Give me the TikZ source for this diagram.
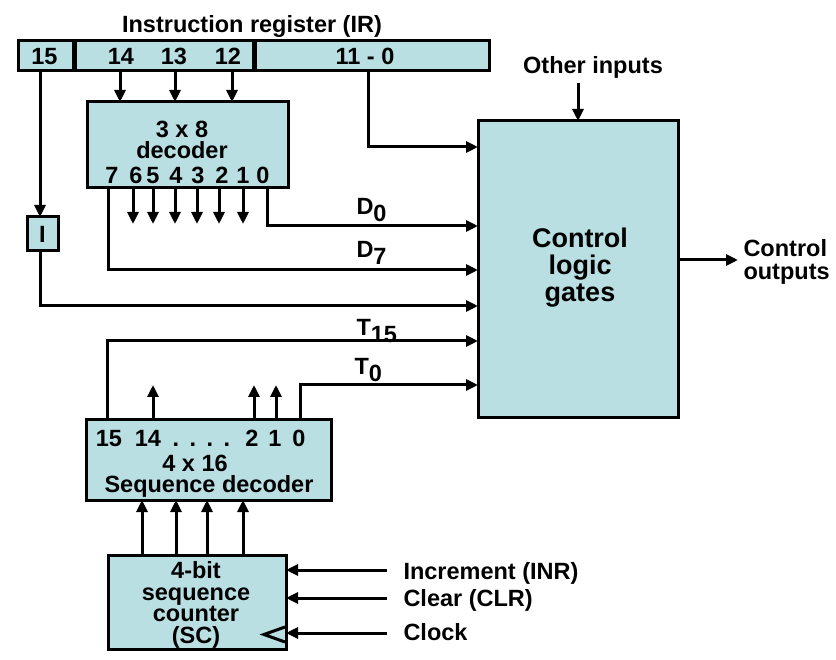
\documentclass[tikz,border=0pt]{standalone}
\usepackage{fontspec}
\setmainfont{Liberation Sans}
\usetikzlibrary{arrows.meta}
\definecolor{boxfill}{RGB}{185,223,227}
\newcommand{\sub}[1]{\raisebox{-6.5pt}{#1}}
\begin{document}
\begin{tikzpicture}[x=1pt,y=-1pt,
  line width=3pt,
  blk/.style={draw,fill=boxfill,inner sep=0pt,outer sep=0pt,rectangle},
  txt/.style={inner sep=0pt,anchor=base,font=\fontsize{23.5}{23.5}\selectfont\bfseries},
  big/.style={inner sep=0pt,anchor=base,font=\fontsize{27}{27}\selectfont\bfseries},
  arr/.style={-{Triangle[length=12pt,width=11pt]}},
  line join=miter]
\useasboundingbox (0,0) rectangle (836,660);
% Instruction register
\node[txt] (irt) at (252,33) {Instruction register (IR)};
\node[blk,minimum width=55pt,minimum height=30pt] (ira) at (45.5,56) {};
\node[blk,minimum width=178pt,minimum height=30pt] (irb) at (164,56) {};
\node[blk,minimum width=234pt,minimum height=30pt] (irc) at (372,56) {};
\node[txt] (n15) at (44.5,65) {15};
\node[txt] (n14) at (121,65) {14};
\node[txt] (n13) at (174,65) {13};
\node[txt] (n12) at (228,65) {12};
\node[txt] (n110) at (365,65) {11 - 0};
\coordinate (a14) at (120,71);
\coordinate (a13) at (175,71);
\coordinate (a12) at (232,71);
% 3x8 decoder
\node[blk,minimum width=201pt,minimum height=86pt] (dec) at (187.5,145) {};
\node[txt] (dect1) at (182,137.5) {3 x 8};
\node[txt] (dect2) at (182,159) {decoder};
\foreach \d/\x in {7/112,6/136,5/153,4/176,3/198,2/222,1/243,0/263}{
  \node[txt] (dd\d) at (\x,184) {\d};
}
\foreach \n in {14,13,12}{
  \draw[arr] (a\n) -- (a\n |- dec.north);
}
% decoder outputs
\foreach \x [count=\i] in {133,153,175,197,219,243}{
  \coordinate (dout\i) at (\x,188);
  \draw[arr] (dout\i) -- ++(0,36);
}
% Control logic
\node[blk,minimum width=200pt,minimum height=297pt] (ctl) at (578,269.5) {};
\node[big] (ctlt1) at (580,248) {Control};
\node[big] (ctlt2) at (580,275) {logic};
\node[big] (ctlt3) at (580,302) {gates};
\node[txt] (oth) at (593,74) {Other inputs};
\coordinate (othc) at (578,83);
\draw[arr] (othc) -- (ctl.north);
\node[txt,anchor=base west] (cout1) at (742,257) {Control};
\node[txt,anchor=base west] (cout2) at (742,279.5) {outputs};
\coordinate (coutc) at (678,260);
\coordinate (coutt) at (738,260);
\draw[arr] (coutc) -- (coutt);
% IR 11-0 to control
\coordinate (c110) at (368,71);
\coordinate (y110) at (0,147);
\draw[arr] (c110) |- (ctl.west |- y110);
% D0 and D7
\coordinate (o0) at (267,188);
\coordinate (o7) at (108,188);
\coordinate (yd0) at (0,226);
\coordinate (yd7) at (0,270);
\draw[arr] (o0) |- (ctl.west |- yd0);
\draw[arr] (o7) |- (ctl.west |- yd7);
\node[txt,anchor=base west] (lD0) at (355,215) {D\sub{0}};
\node[txt,anchor=base west] (lD7) at (355,258) {D\sub{7}};
% I flip-flop
\node[blk,minimum width=31pt,minimum height=34pt] (ibox) at (42.5,234) {};
\node[txt,anchor=center] (itxt) at (42.5,234) {I};
\coordinate (i15) at (40,71);
\coordinate (itop) at (40,217);
\coordinate (ibot) at (40,251);
\coordinate (yi) at (0,306);
\draw[arr] (i15) -- (itop);
\draw[arr] (ibot) |- (ctl.west |- yi);
% Sequence decoder
\node[blk,minimum width=245pt,minimum height=80pt] (sdec) at (208.5,460) {};
\foreach \t/\x [count=\i] in {15/109,14/148,./176,./193,./210,./227,2/252,1/275,0/299}{
  \node[txt] (sd\i) at (\x,446.5) {\t};
}
\node[txt] (sdt1) at (195,471.5) {4 x 16};
\node[txt] (sdt2) at (209,493) {Sequence decoder};
\coordinate (t15) at (107,420);
\coordinate (t0) at (300,420);
\coordinate (yt15) at (0,341);
\coordinate (yt0) at (0,385);
\draw[arr] (t15) |- (ctl.west |- yt15);
\draw[arr] (t0) |- (ctl.west |- yt0);
\node[txt,anchor=base west] (lT15) at (355,336) {T\sub{15}};
\node[txt,anchor=base west] (lT0) at (353,375) {T\sub{0}};
\foreach \x [count=\i] in {153,254,276}{
  \coordinate (sup\i) at (\x,420);
  \draw[arr] (sup\i) -- ++(0,-35);
}
% Sequence counter
\node[blk,minimum width=178pt,minimum height=94pt] (sc) at (197,602) {};
\node[txt] (sct1) at (196,578) {4-bit};
\node[txt] (sct2) at (196,600) {sequence};
\node[txt] (sct3) at (196,621.5) {counter};
\node[txt] (sct4) at (196,643) {(SC)};
\foreach \x [count=\i] in {142,176,207,243}{
  \coordinate (scu\i) at (\x,555);
  \draw[arr] (scu\i) -- (scu\i |- sdec.south);
}
\draw[line join=miter] (285,627) -- (264,634.5) -- (285,642);
\node[txt,anchor=base west] (inr) at (402,579.5) {Increment (INR)};
\node[txt,anchor=base west] (clr) at (402,606) {Clear (CLR)};
\node[txt,anchor=base west] (clk) at (402,640) {Clock};
\coordinate (yinr) at (387,570);
\coordinate (yclr) at (387,598);
\coordinate (yclk) at (387,633);
\draw[arr] (yinr) -- (sc.east |- yinr);
\draw[arr] (yclr) -- (sc.east |- yclr);
\draw[arr] (yclk) -- (sc.east |- yclk);
\end{tikzpicture}
\end{document}
